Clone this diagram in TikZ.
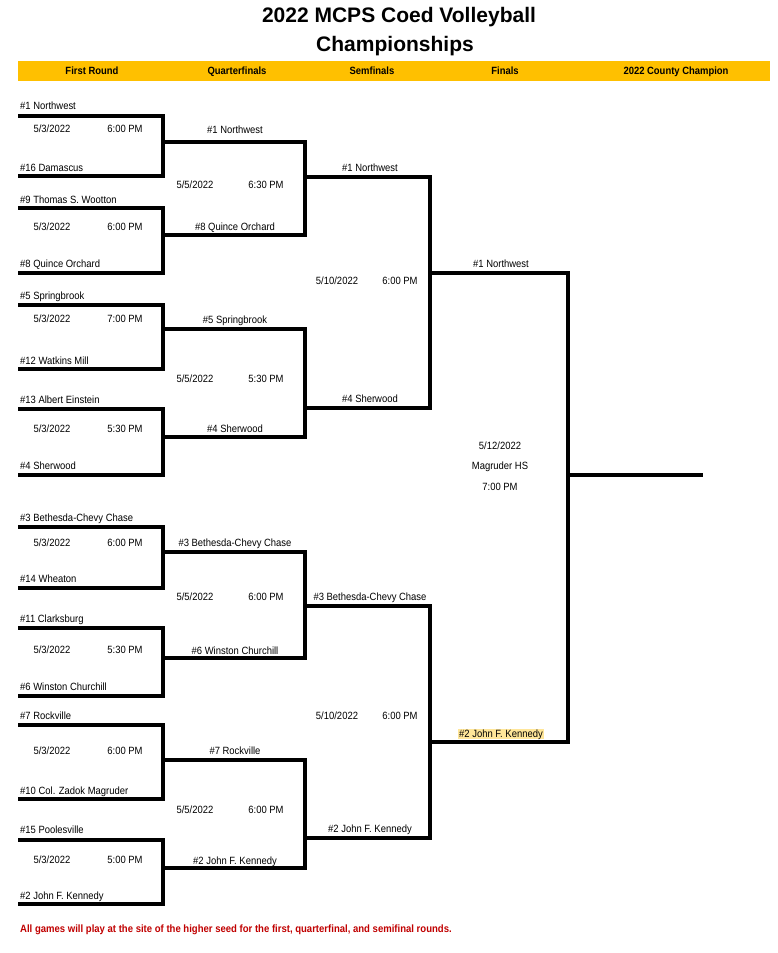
\documentclass[tikz,border=0pt]{standalone}
\usepackage{fontspec}
\setmainfont{Liberation Sans}[FakeStretch=0.9]
\newfontfamily\titlefont{Liberation Sans}
\definecolor{mcpsgold}{HTML}{FFC000}
\definecolor{notered}{HTML}{C00000}
\definecolor{hilite}{HTML}{FFE699}
\tikzset{
  bline/.style={line width=4pt},
  txt/.style={inner sep=0pt, text height=7.5pt, text depth=0pt, font=\fontsize{10.5}{12}\selectfont},
  team/.style={txt, anchor=west},
  lbl/.style={txt},
  head/.style={txt, font=\fontsize{10.5}{12}\selectfont\bfseries},
}
\begin{document}
\begin{tikzpicture}[x=1pt,y=-1pt]
  \useasboundingbox (0,0) rectangle (778,953);
  % title and header bar
  \node[font=\titlefont\fontsize{21}{24}\selectfont\bfseries] (title1) at (399,17) {2022 MCPS Coed Volleyball};
  \node[font=\titlefont\fontsize{21}{24}\selectfont\bfseries] (title2) at (395,46) {Championships};
  \fill[mcpsgold] (18,61) rectangle (770,81);
  \node[head] (h1) at (92,71) {First Round};
  \node[head] (h2) at (237,71) {Quarterfinals};
  \node[head] (h3) at (372,71) {Semfinals};
  \node[head] (h4) at (505,71) {Finals};
  \node[head] (h5) at (676,71) {2022 County Champion};

  % first round
  \draw[bline] (18,116) -| (163,176) -- (18,176);
  \node[team] (m1t) at (20,106) {\#1 Northwest};
  \node[lbl] (m1d) at (52,129) {5/3/2022}; \node[lbl] (m1h) at (125,129) {6:00 PM};
  \node[team] (m1b) at (20,168) {\#16 Damascus};

  \draw[bline] (18,208) -| (163,273) -- (18,273);
  \node[team] (m2t) at (20,200) {\#9 Thomas S. Wootton};
  \node[lbl] (m2d) at (52,227) {5/3/2022}; \node[lbl] (m2h) at (125,227) {6:00 PM};
  \node[team] (m2b) at (20,264) {\#8 Quince Orchard};

  \draw[bline] (18,305) -| (163,369) -- (18,369);
  \node[team] (m3t) at (20,296) {\#5 Springbrook};
  \node[lbl] (m3d) at (52,319) {5/3/2022}; \node[lbl] (m3h) at (125,319) {7:00 PM};
  \node[team] (m3b) at (20,361) {\#12 Watkins Mill};

  \draw[bline] (18,409) -| (163,475) -- (18,475);
  \node[team] (m4t) at (20,400) {\#13 Albert Einstein};
  \node[lbl] (m4d) at (52,429) {5/3/2022}; \node[lbl] (m4h) at (125,429) {5:30 PM};
  \node[team] (m4b) at (20,466) {\#4 Sherwood};

  \draw[bline] (18,527) -| (163,588) -- (18,588);
  \node[team] (m5t) at (20,518) {\#3 Bethesda-Chevy Chase};
  \node[lbl] (m5d) at (52,543) {5/3/2022}; \node[lbl] (m5h) at (125,543) {6:00 PM};
  \node[team] (m5b) at (20,579) {\#14 Wheaton};

  \draw[bline] (18,628) -| (163,696) -- (18,696);
  \node[team] (m6t) at (20,619) {\#11 Clarksburg};
  \node[lbl] (m6d) at (52,650) {5/3/2022}; \node[lbl] (m6h) at (125,650) {5:30 PM};
  \node[team] (m6b) at (20,687) {\#6 Winston Churchill};

  \draw[bline] (18,725) -| (163,799) -- (18,799);
  \node[team] (m7t) at (20,716) {\#7 Rockville};
  \node[lbl] (m7d) at (52,751) {5/3/2022}; \node[lbl] (m7h) at (125,751) {6:00 PM};
  \node[team] (m7b) at (20,791) {\#10 Col. Zadok Magruder};

  \draw[bline] (18,840) -| (163,904) -- (18,904);
  \node[team] (m8t) at (20,830) {\#15 Poolesville};
  \node[lbl] (m8d) at (52,860) {5/3/2022}; \node[lbl] (m8h) at (125,860) {5:00 PM};
  \node[team] (m8b) at (20,896) {\#2 John F. Kennedy};

  % quarterfinals
  \draw[bline] (163,142) -| (305,235) -- (163,235);
  \node[lbl] (q1t) at (235,130) {\#1 Northwest};
  \node[lbl] (q1d) at (195,185) {5/5/2022}; \node[lbl] (q1h) at (266,185) {6:30 PM};
  \node[lbl] (q1b) at (235,227) {\#8 Quince Orchard};

  \draw[bline] (163,329) -| (305,437) -- (163,437);
  \node[lbl] (q2t) at (235,320) {\#5 Springbrook};
  \node[lbl] (q2d) at (195,379) {5/5/2022}; \node[lbl] (q2h) at (266,379) {5:30 PM};
  \node[lbl] (q2b) at (235,429) {\#4 Sherwood};

  \draw[bline] (163,552) -| (305,658) -- (163,658);
  \node[lbl] (q3t) at (235,543) {\#3 Bethesda-Chevy Chase};
  \node[lbl] (q3d) at (195,597) {5/5/2022}; \node[lbl] (q3h) at (266,597) {6:00 PM};
  \node[lbl] (q3b) at (235,651) {\#6 Winston Churchill};

  \draw[bline] (163,760) -| (305,868) -- (163,868);
  \node[lbl] (q4t) at (235,751) {\#7 Rockville};
  \node[lbl] (q4d) at (195,810) {5/5/2022}; \node[lbl] (q4h) at (266,810) {6:00 PM};
  \node[lbl] (q4b) at (235,861) {\#2 John F. Kennedy};

  % semifinals
  \draw[bline] (305,177) -| (430,408) -- (305,408);
  \node[lbl] (s1t) at (370,168) {\#1 Northwest};
  \node[lbl] (s1d) at (337,281) {5/10/2022}; \node[lbl] (s1h) at (400,281) {6:00 PM};
  \node[lbl] (s1b) at (370,399) {\#4 Sherwood};

  \draw[bline] (305,606) -| (430,838) -- (305,838);
  \node[lbl] (s2t) at (370,597) {\#3 Bethesda-Chevy Chase};
  \node[lbl] (s2d) at (337,716) {5/10/2022}; \node[lbl] (s2h) at (400,716) {6:00 PM};
  \node[lbl] (s2b) at (370,829) {\#2 John F. Kennedy};

  % finals and champion
  \draw[bline] (430,273) -| (568,742) -- (430,742);
  \node[lbl] (ft) at (501,264) {\#1 Northwest};
  \node[lbl, fill=hilite, inner xsep=1pt, inner ysep=1.5pt] (fb) at (501,734) {\#2 John F. Kennedy};
  \node[lbl] (fd) at (500,446) {5/12/2022};
  \node[lbl] (fs) at (500,466) {Magruder HS};
  \node[lbl] (fh) at (500,487) {7:00 PM};
  \draw[bline] (568,475) -- (703,475);

  % note
  \node[txt, anchor=west, text=notered, font=\fontsize{10.6}{12}\selectfont\bfseries] (note) at (20,929)
    {All games will play at the site of the higher seed for the first, quarterfinal, and semifinal rounds.};
\end{tikzpicture}
\end{document}
